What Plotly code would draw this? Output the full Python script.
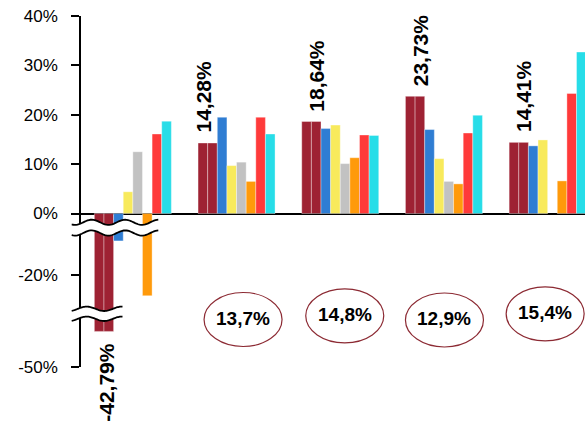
import math
import plotly.graph_objects as go

# ---- data -------------------------------------------------------------
groups = [0, 1, 2, 3, 4]

maroon_a = [-42.79, 14.28, 18.64, 23.73, 14.41]
maroon_b = [-42.79, 14.28, 18.64, 23.73, 14.41]
blue     = [-13.1, 19.5, 17.2, 17.0, 13.7]
yellow   = [4.4, 9.7, 17.9, 11.1, 14.9]
gray     = [12.5, 10.4, 10.1, 6.5, None]
orange   = [-24.2, 6.5, 11.3, 6.0, 6.6]
red      = [16.1, 19.5, 15.9, 16.3, 24.3]
cyan     = [18.7, 16.1, 15.8, 19.9, 32.7]

circled_values = ["13,7%", "14,8%", "12,9%", "15,4%"]
circled_groups = [1, 2, 3, 4]

series = [maroon_a, maroon_b, blue, yellow, gray, orange, red, cyan]
colors = ["#9E2233", "#9E2233", "#2F7DD3", "#F8EA5C", "#C2C2C2",
          "#FF9A0B", "#FF3A3A", "#27DDE8"]

# ---- geometry (pixels) ------------------------------------------------
W, H = 585, 425
ML, MT, MB = 81, 16, 58
PW = W - ML
PH = H - MT - MB
BOTTOM_PX = H - MB          # pixel row of the lowest axis value
PX_PER_PCT = (213.5 - MT) / 40.0


def py_to_paper(py):
    return (BOTTOM_PX - py) / PH


def px_to_paper(px):
    return (px - ML) / PW


def panel(top_px, bot_px, ref_val, ref_px):
    dom = [py_to_paper(bot_px), py_to_paper(top_px)]
    rng = [ref_val - (bot_px - ref_px) / PX_PER_PCT,
           ref_val + (ref_px - top_px) / PX_PER_PCT]
    return dom, rng


top_dom, top_rng = panel(MT, 226, 0, 213.5)
mid_dom, mid_rng = panel(226, 314, -20, 275)
bot_dom, bot_rng = panel(314, BOTTOM_PX, -50, BOTTOM_PX)

fig = go.Figure()

for yax in ["y", "y2", "y3"]:
    for vals, col in zip(series, colors):
        fig.add_trace(go.Bar(
            x=groups, y=vals, xaxis="x", yaxis=yax,
            marker=dict(color=col, line=dict(color="rgba(255,255,255,0.45)", width=0.8)),
            showlegend=False, hoverinfo="skip",
        ))

tick_font = dict(family="Liberation Sans, Arial, sans-serif", size=17, color="black")
axis_common = dict(
    showline=True, linecolor="black", linewidth=1.5,
    ticks="outside", ticklen=8, tickwidth=1.5, tickcolor="black",
    showgrid=False, tickfont=tick_font, ticklabelstandoff=10,
    anchor="x", fixedrange=True,
)

fig.update_layout(
    width=W, height=H,
    margin=dict(l=ML, r=0, t=MT, b=MB),
    paper_bgcolor="white", plot_bgcolor="white",
    barmode="group", bargap=0.2575, bargroupgap=0,
    xaxis=dict(range=[-0.5, -0.5 + PW / 103.7], showticklabels=False,
               showline=False, showgrid=False, zeroline=False, ticks="",
               anchor="y3", fixedrange=True),
    yaxis=dict(domain=top_dom, range=top_rng, tickvals=[0, 10, 20, 30, 40],
               ticktext=["0%", "10%", "20%", "30%", "40%"],
               zeroline=True, zerolinecolor="black", zerolinewidth=2,
               **axis_common),
    yaxis2=dict(domain=mid_dom, range=mid_rng, tickvals=[-20], ticktext=["-20%"],
                zeroline=False, **axis_common),
    yaxis3=dict(domain=bot_dom, range=bot_rng, tickvals=[-50], ticktext=["-50%"],
                zeroline=False, **axis_common),
)

# ---- axis break marks -------------------------------------------------
def wave(x0, x1, ymid, amp, period, peak_x, n=60):
    pts = []
    for k in range(n + 1):
        x = x0 + (x1 - x0) * k / n
        y = ymid - amp * math.cos(2 * math.pi * (x - peak_x) / period)
        pts.append((px_to_paper(x), py_to_paper(y)))
    return pts


def to_path(pts, close=False):
    s = "M " + " L ".join(f"{x:.5f},{y:.5f}" for x, y in pts)
    return s + (" Z" if close else "")


breaks = [
    dict(x0=71.7, x1=158.3, top=222.3, bot=233.0, amp=2.6, period=33.5, peak=91.7),
    dict(x0=71.7, x1=122.5, top=308.8, bot=318.8, amp=2.2, period=35.0, peak=86.7),
]
for b in breaks:
    upper = wave(b["x0"], b["x1"], b["top"], b["amp"], b["period"], b["peak"])
    lower = wave(b["x0"], b["x1"], b["bot"], b["amp"], b["period"], b["peak"])
    fig.add_shape(type="path", xref="paper", yref="paper",
                  path=to_path(upper + lower[::-1], close=True),
                  fillcolor="white", line=dict(width=0), layer="above")
    for line_pts in (upper, lower):
        fig.add_shape(type="path", xref="paper", yref="paper",
                      path=to_path(line_pts),
                      line=dict(color="black", width=1.8), layer="above")

# ---- value labels over the maroon bars -------------------------------
label_font = dict(family="Liberation Sans, Arial, sans-serif", size=21, color="black")
label_nudge = [-26, -33, -24, -24, -24]
for i, v in zip(groups, maroon_a):
    txt = f"{v:.2f}".replace(".", ",") + "%"
    if v < 0:
        fig.add_annotation(x=i, y=v, xref="x", yref="y3", text=f"<b>{txt}</b>",
                           textangle=-90, showarrow=False, yanchor="top",
                           xshift=label_nudge[i], yshift=-9, font=label_font)
    else:
        fig.add_annotation(x=i, y=v, xref="x", yref="y", text=f"<b>{txt}</b>",
                           textangle=-90, showarrow=False, yanchor="bottom",
                           xshift=label_nudge[i], yshift=8, font=label_font)

# ---- circled figures under the groups --------------------------------
ellipse_dx = [6.5, 4.5, 0.5, -2.5]
ellipse_cy = [319.5, 315.8, 320.0, 313.8]
circle_font = dict(family="Liberation Sans, Arial, sans-serif", size=19, color="black")
for g, txt, dx, cy in zip(circled_groups, circled_values, ellipse_dx, ellipse_cy):
    fig.add_shape(type="circle", xref="x", yref="paper",
                  xsizemode="pixel", ysizemode="pixel",
                  xanchor=g, yanchor=py_to_paper(cy),
                  x0=dx - 39, x1=dx + 39, y0=-27, y1=27,
                  line=dict(color="#8C2A33", width=1.2), layer="above")
    fig.add_annotation(x=g, y=py_to_paper(cy - 1.5), xref="x", yref="paper",
                       text=f"<b>{txt}</b>", showarrow=False, xshift=dx,
                       xanchor="center", yanchor="middle",
                       font=circle_font)

fig.write_html("out.html")
